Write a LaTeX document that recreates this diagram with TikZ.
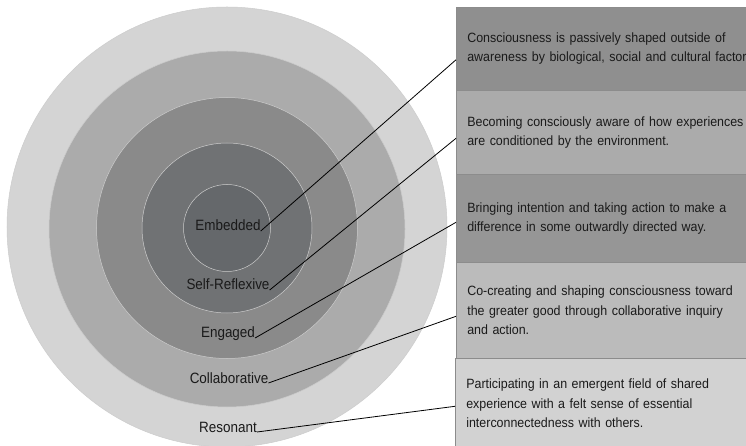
\documentclass[tikz,border=0pt]{standalone}
\usepackage{fontspec}
\setmainfont{Liberation Sans}[FakeStretch=0.925]
\newfontfamily\lblfont{Liberation Sans}[FakeStretch=0.9]
\definecolor{ring1}{HTML}{D4D4D4}
\definecolor{ring2}{HTML}{ABABAB}
\definecolor{ring3}{HTML}{8A8A8A}
\definecolor{ring4}{HTML}{707274}
\definecolor{ring5}{HTML}{65686B}
\definecolor{boxA}{HTML}{8F8F8F}
\definecolor{boxB}{HTML}{ABABAB}
\definecolor{boxC}{HTML}{969696}
\definecolor{boxD}{HTML}{BBBBBB}
\definecolor{boxE}{HTML}{D2D2D2}
\definecolor{txt}{HTML}{1A1A1A}
\begin{document}
\begin{tikzpicture}[x=1bp,y=-1bp,
  ring/.style={circle, draw=black!20, line width=0.5bp, inner sep=0pt, minimum size=#1},
  lvl/.style={inner sep=0pt, anchor=base, text=txt, font=\lblfont\fontsize{15}{17}\selectfont},
  descbox/.style={rectangle, draw=black!45, line width=0.6bp, anchor=north west,
    text width=300bp, align=left, inner xsep=11bp, inner ysep=0pt,
    minimum height=#1, text=txt, font=\fontsize{13.5}{19.5}\selectfont},
  link/.style={draw=black, line width=0.8bp}]
\useasboundingbox (0,0) rectangle (746,446);
\clip (0,0) rectangle (746,446);
\fill[white] (0,0) rectangle (746,446);
% circles
\node[ring=440bp, fill=ring1] (c1) at (227,227) {};
\node[ring=356bp, fill=ring2] (c2) at (227,229) {};
\node[ring=261bp, fill=ring3] (c3) at (227,228) {};
\node[ring=170bp, fill=ring4] (c4) at (227,228) {};
\node[ring=87bp, fill=ring5] (c5) at (227,228) {};
% labels
\node[lvl] (emb) at (228,231) {Embedded};
\node[lvl] (sel) at (228,290) {Self-Reflexive};
\node[lvl] (eng) at (228,338) {Engaged};
\node[lvl] (col) at (229,383) {Collaborative};
\node[lvl] (res) at (228,432) {Resonant};
% boxes
\node[descbox=83bp, fill=boxA] (b1) at (456,7) {Consciousness is passively shaped outside of\\awareness by biological, social and cultural factors};
\node[descbox=84bp, fill=boxB] (b2) at (456,90) {Becoming consciously aware of how experiences\\are conditioned by the environment.};
\node[descbox=88bp, fill=boxC] (b3) at (456,174) {Bringing intention and taking action to make a\\difference in some outwardly directed way.};
\node[descbox=96bp, fill=boxD] (b4) at (456,262) {Co-creating and shaping consciousness toward\\the greater good through collaborative inquiry\\and action.};
\node[descbox=90bp, fill=boxE] (b5) at (455,358) {Participating in an emergent field of shared\\experience with a felt sense of essential\\interconnectedness with others.};
% connectors
\draw[link] (emb.base east) -- ([yshift=-11bp]b1.west);
\draw[link] (sel.base east) -- ([yshift=-6bp]b2.west);
\draw[link] (eng.base east) -- ([yshift=-4bp]b3.west);
\draw[link] (col.base east) -- ([yshift=-6bp]b4.west);
\draw[link] (res.base east) -- ([yshift=-3bp]b5.west);
\end{tikzpicture}
\end{document}
